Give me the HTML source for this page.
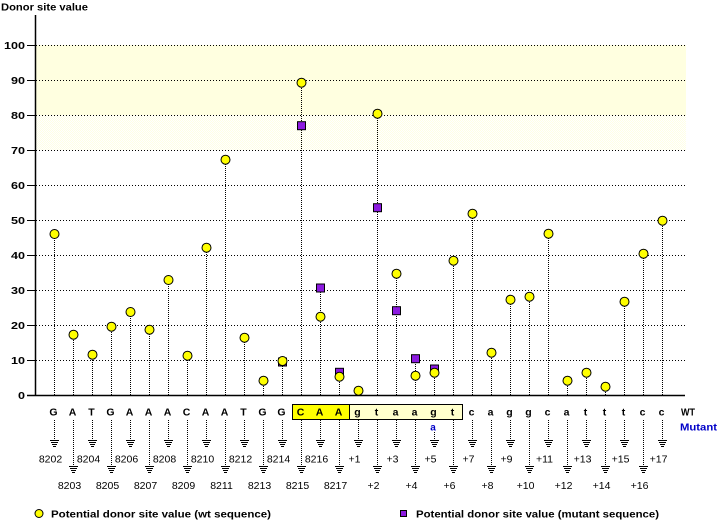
<!DOCTYPE html>
<html><head><meta charset="utf-8"><style>
html,body{margin:0;padding:0;background:#fff;width:720px;height:520px;overflow:hidden}
svg{display:block}
text{font-family:"Liberation Sans",sans-serif}
.b{font-weight:bold;font-size:10px}
.L{font-weight:bold;font-size:10.5px}
.n{font-size:10.5px}
</style></head><body>
<svg width="720" height="520" viewBox="0 0 720 520" xmlns="http://www.w3.org/2000/svg">
<defs>
<pattern id="dith" width="2" height="2" patternUnits="userSpaceOnUse">
<rect width="2" height="2" fill="#fff"/><rect width="1" height="1" fill="#ffffe4"/><rect x="1" y="1" width="1" height="1" fill="#ffffe4"/>
</pattern>
<g id="gnd"><path d="M-4.5 0.5h9M-3.5 2.5h7M-2.5 4.5h5M-1.5 6.5h3" stroke="#000" stroke-width="1" fill="none"/></g>
</defs>
<!-- band -->
<rect x="36" y="45" width="650" height="70" fill="#ffffe0"/>
<rect x="36" y="115" width="650" height="35" fill="url(#dith)"/>
<!-- gridlines -->
<g stroke="#000" stroke-width="1" stroke-dasharray="1 2">
<path d="M36 45.5H686M36 80.5H686M36 115.5H686M36 150.5H686M36 185.5H686M36 220.5H686M36 255.5H686M36 290.5H686M36 325.5H686M36 360.5H686"/>
</g>
<!-- title -->
<text x="1" y="10.5" class="b" textLength="87" lengthAdjust="spacingAndGlyphs">Donor site value</text>
<!-- y labels -->
<g class="b" text-anchor="end">
<text x="25" y="49" textLength="21" lengthAdjust="spacingAndGlyphs">100</text>
<text x="25" y="84" textLength="14" lengthAdjust="spacingAndGlyphs">90</text>
<text x="25" y="119" textLength="14" lengthAdjust="spacingAndGlyphs">80</text>
<text x="25" y="154" textLength="14" lengthAdjust="spacingAndGlyphs">70</text>
<text x="25" y="189" textLength="14" lengthAdjust="spacingAndGlyphs">60</text>
<text x="25" y="224" textLength="14" lengthAdjust="spacingAndGlyphs">50</text>
<text x="25" y="259" textLength="14" lengthAdjust="spacingAndGlyphs">40</text>
<text x="25" y="294" textLength="14" lengthAdjust="spacingAndGlyphs">30</text>
<text x="25" y="329" textLength="14" lengthAdjust="spacingAndGlyphs">20</text>
<text x="25" y="364" textLength="14" lengthAdjust="spacingAndGlyphs">10</text>
<text x="25" y="399" textLength="7" lengthAdjust="spacingAndGlyphs">0</text>
</g>
<!-- ticks -->
<path d="M27 45.5H35M27 80.5H35M27 115.5H35M27 150.5H35M27 185.5H35M27 220.5H35M27 255.5H35M27 290.5H35M27 325.5H35M27 360.5H35M27 395.5H35" stroke="#000" stroke-width="1"/>
<!-- stems above axis -->
<g stroke="#000" stroke-width="1" stroke-dasharray="1 1">
<path d="M54.5 395V234M73.5 395V334.7M92.5 395V354.7M111.5 395V326.7M130.5 395V312M149.5 395V329.7M168.5 395V280M187.5 395V355.7M206.5 395V247.7M225.5 395V159.7M244.5 395V337.7M263.5 395V380.7M282.5 395V361M301.5 395V82.7M320.5 395V288M339.5 395V372.3M358.5 395V390.7M377.5 395V113.7M396.5 395V273.7M415.5 395V358.7M434.5 395V369M453.5 395V260.7M472.5 395V213.7M491.5 395V352.7M510.5 395V299.7M529.5 395V296.7M548.5 395V233.7M567.5 395V380.7M586.5 395V372.7M605.5 395V386.7M624.5 395V301.7M643.5 395V253.7M662.5 395V220.7"/>
</g>
<!-- axes -->
<path d="M35.5 15V396" stroke="#000" stroke-width="1.5"/>
<path d="M27 395.5H685" stroke="#000" stroke-width="1.5"/>
<!-- mutant squares -->
<g fill="#8c1ae0" stroke="#000" stroke-width="1">
<rect x="278.5" y="358" width="8" height="8"/>
<rect x="297.5" y="121.7" width="8" height="8"/>
<rect x="316.5" y="284" width="8" height="8"/>
<rect x="335.5" y="368.3" width="8" height="8"/>
<rect x="373.5" y="203.7" width="8" height="8"/>
<rect x="392.5" y="306.7" width="8" height="8"/>
<rect x="411.5" y="354.7" width="8" height="8"/>
<rect x="430.5" y="365" width="8" height="8"/>
</g>
<!-- wt circles -->
<g fill="#ffff00" stroke="#000" stroke-width="1">
<circle cx="54.5" cy="234" r="4.5"/>
<circle cx="73.5" cy="334.7" r="4.5"/>
<circle cx="92.5" cy="354.7" r="4.5"/>
<circle cx="111.5" cy="326.7" r="4.5"/>
<circle cx="130.5" cy="312" r="4.5"/>
<circle cx="149.5" cy="329.7" r="4.5"/>
<circle cx="168.5" cy="280" r="4.5"/>
<circle cx="187.5" cy="355.7" r="4.5"/>
<circle cx="206.5" cy="247.7" r="4.5"/>
<circle cx="225.5" cy="159.7" r="4.5"/>
<circle cx="244.5" cy="337.7" r="4.5"/>
<circle cx="263.5" cy="380.7" r="4.5"/>
<circle cx="282.5" cy="361" r="4.5"/>
<circle cx="301.5" cy="82.7" r="4.5"/>
<circle cx="320.5" cy="316.7" r="4.5"/>
<circle cx="339.5" cy="376.7" r="4.5"/>
<circle cx="358.5" cy="390.7" r="4.5"/>
<circle cx="377.5" cy="113.7" r="4.5"/>
<circle cx="396.5" cy="273.7" r="4.5"/>
<circle cx="415.5" cy="375.7" r="4.5"/>
<circle cx="434.5" cy="372.7" r="4.5"/>
<circle cx="453.5" cy="260.7" r="4.5"/>
<circle cx="472.5" cy="213.7" r="4.5"/>
<circle cx="491.5" cy="352.7" r="4.5"/>
<circle cx="510.5" cy="299.7" r="4.5"/>
<circle cx="529.5" cy="296.7" r="4.5"/>
<circle cx="548.5" cy="233.7" r="4.5"/>
<circle cx="567.5" cy="380.7" r="4.5"/>
<circle cx="586.5" cy="372.7" r="4.5"/>
<circle cx="605.5" cy="386.7" r="4.5"/>
<circle cx="624.5" cy="301.7" r="4.5"/>
<circle cx="643.5" cy="253.7" r="4.5"/>
<circle cx="662.5" cy="220.7" r="4.5"/>
</g>
<!-- highlight box -->
<rect x="292.5" y="404.5" width="57" height="15" fill="#ffff00" stroke="#000" stroke-width="1"/>
<rect x="349.5" y="404.5" width="113" height="15" fill="#ffffcc" stroke="#000" stroke-width="1"/>
<!-- sequence letters -->
<g class="L" text-anchor="middle">
<text x="53.5" y="415.5">G</text><text x="72.5" y="415.5">A</text><text x="91.5" y="415.5">T</text><text x="110.5" y="415.5">G</text>
<text x="129.5" y="415.5">A</text><text x="148.5" y="415.5">A</text><text x="167.5" y="415.5">A</text><text x="186.5" y="415.5">C</text>
<text x="205.5" y="415.5">A</text><text x="224.5" y="415.5">A</text><text x="243.5" y="415.5">T</text><text x="262.5" y="415.5">G</text>
<text x="281.5" y="415.5">G</text><text x="300.5" y="415.5">C</text><text x="319.5" y="415.5">A</text><text x="338.5" y="415.5">A</text>
<text x="357.5" y="415.5">g</text><text x="376.5" y="415.5">t</text><text x="395.5" y="415.5">a</text><text x="414.5" y="415.5">a</text>
<text x="433.5" y="415.5">g</text><text x="452.5" y="415.5">t</text><text x="471.5" y="415.5">c</text><text x="490.5" y="415.5">a</text>
<text x="509.5" y="415.5">g</text><text x="528.5" y="415.5">g</text><text x="547.5" y="415.5">c</text><text x="566.5" y="415.5">a</text>
<text x="585.5" y="415.5">t</text><text x="604.5" y="415.5">t</text><text x="623.5" y="415.5">t</text><text x="642.5" y="415.5">c</text>
<text x="661.5" y="415.5">c</text>
</g>
<text x="681" y="415.5" class="b" textLength="14" lengthAdjust="spacingAndGlyphs">WT</text>
<text x="680" y="430.5" class="b" fill="#0000c8" textLength="37" lengthAdjust="spacingAndGlyphs">Mutant</text>
<text x="433" y="430.5" class="b" fill="#0000c8" text-anchor="middle">a</text>
<!-- stems below -->
<g stroke="#000" stroke-width="1" stroke-dasharray="1 1">
<path d="M54.5 420V440M92.5 420V440M130.5 420V440M168.5 420V440M206.5 420V440M244.5 420V440M282.5 420V440M320.5 420V440M358.5 420V440M396.5 420V440M434.5 432V440M472.5 420V440M510.5 420V440M548.5 420V440M586.5 420V440M624.5 420V440M662.5 420V440"/>
<path d="M73.5 420V466M111.5 420V466M149.5 420V466M187.5 420V466M225.5 420V466M263.5 420V466M301.5 420V466M339.5 420V466M377.5 420V466M415.5 420V466M453.5 420V466M491.5 420V466M529.5 420V466M567.5 420V466M605.5 420V466M643.5 420V466"/>
</g>
<!-- grounds -->
<g>
<use href="#gnd" x="54.5" y="440"/><use href="#gnd" x="92.5" y="440"/><use href="#gnd" x="130.5" y="440"/><use href="#gnd" x="168.5" y="440"/>
<use href="#gnd" x="206.5" y="440"/><use href="#gnd" x="244.5" y="440"/><use href="#gnd" x="282.5" y="440"/><use href="#gnd" x="320.5" y="440"/>
<use href="#gnd" x="358.5" y="440"/><use href="#gnd" x="396.5" y="440"/><use href="#gnd" x="434.5" y="440"/><use href="#gnd" x="472.5" y="440"/>
<use href="#gnd" x="510.5" y="440"/><use href="#gnd" x="548.5" y="440"/><use href="#gnd" x="586.5" y="440"/><use href="#gnd" x="624.5" y="440"/>
<use href="#gnd" x="662.5" y="440"/>
<use href="#gnd" x="73.5" y="466"/><use href="#gnd" x="111.5" y="466"/><use href="#gnd" x="149.5" y="466"/><use href="#gnd" x="187.5" y="466"/>
<use href="#gnd" x="225.5" y="466"/><use href="#gnd" x="263.5" y="466"/><use href="#gnd" x="301.5" y="466"/><use href="#gnd" x="339.5" y="466"/>
<use href="#gnd" x="377.5" y="466"/><use href="#gnd" x="415.5" y="466"/><use href="#gnd" x="453.5" y="466"/><use href="#gnd" x="491.5" y="466"/>
<use href="#gnd" x="529.5" y="466"/><use href="#gnd" x="567.5" y="466"/><use href="#gnd" x="605.5" y="466"/><use href="#gnd" x="643.5" y="466"/>
</g>
<!-- position labels -->
<g class="n" text-anchor="middle">
<text x="50.5" y="462.5">8202</text><text x="88.5" y="462.5">8204</text><text x="126.5" y="462.5">8206</text><text x="164.5" y="462.5">8208</text>
<text x="202.5" y="462.5">8210</text><text x="240.5" y="462.5">8212</text><text x="278.5" y="462.5">8214</text><text x="316.5" y="462.5">8216</text>
<text x="354.5" y="462.5">+1</text><text x="392.5" y="462.5">+3</text><text x="430.5" y="462.5">+5</text><text x="468.5" y="462.5">+7</text>
<text x="506.5" y="462.5">+9</text><text x="544.5" y="462.5">+11</text><text x="582.5" y="462.5">+13</text><text x="620.5" y="462.5">+15</text>
<text x="658.5" y="462.5">+17</text>
<text x="69.5" y="489">8203</text><text x="107.5" y="489">8205</text><text x="145.5" y="489">8207</text><text x="183.5" y="489">8209</text>
<text x="221.5" y="489">8211</text><text x="259.5" y="489">8213</text><text x="297.5" y="489">8215</text><text x="335.5" y="489">8217</text>
<text x="373.5" y="489">+2</text><text x="411.5" y="489">+4</text><text x="449.5" y="489">+6</text><text x="487.5" y="489">+8</text>
<text x="525.5" y="489">+10</text><text x="563.5" y="489">+12</text><text x="601.5" y="489">+14</text><text x="639.5" y="489">+16</text>
</g>
<!-- legend -->
<circle cx="39" cy="513.5" r="4" fill="#ffff00" stroke="#000" stroke-width="1"/>
<text x="51" y="517.5" class="b" textLength="220" lengthAdjust="spacingAndGlyphs">Potential donor site value (wt sequence)</text>
<rect x="400.5" y="510.5" width="6" height="6" fill="#8c1ae0" stroke="#000" stroke-width="1"/>
<text x="416" y="517.5" class="b" textLength="243" lengthAdjust="spacingAndGlyphs">Potential donor site value (mutant sequence)</text>
</svg>
</body></html>
